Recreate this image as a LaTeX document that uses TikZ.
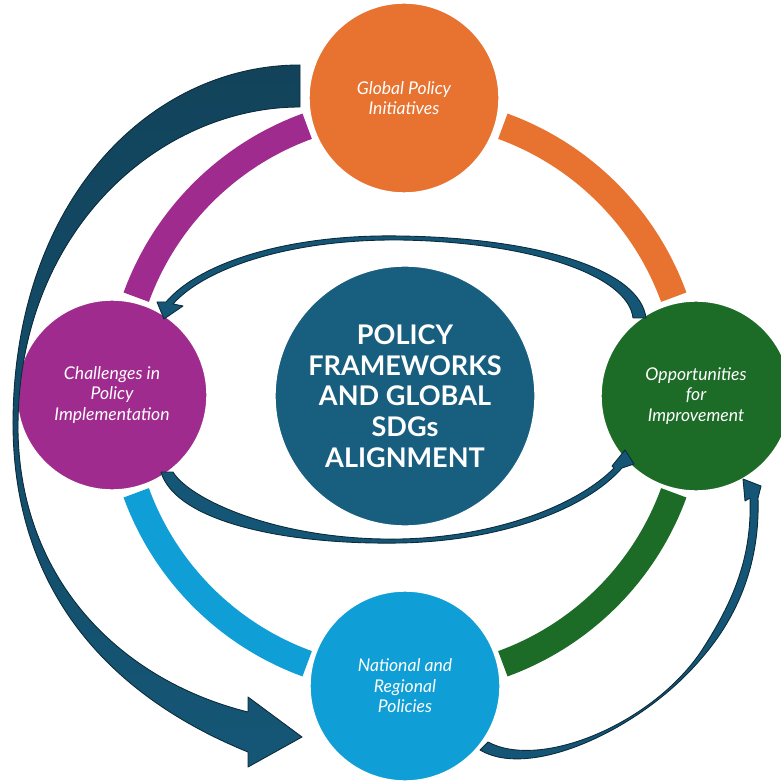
\documentclass[tikz,border=0pt]{standalone}
\usepackage{fontspec}
\setmainfont{Lato}
\definecolor{globalorange}{HTML}{E8722F}
\definecolor{challengepurple}{HTML}{A02B8E}
\definecolor{opportgreen}{HTML}{1C6B27}
\definecolor{nationalblue}{HTML}{0F9ED5}
\definecolor{corenavy}{HTML}{175E7F}
\definecolor{arrownavy}{HTML}{155676}
\definecolor{arrowtop}{HTML}{12435B}
\definecolor{arrowedge}{HTML}{0B2B3A}

\tikzset{
  hub/.style={circle,minimum size=38mm,inner sep=0pt,draw=white,line width=0.8pt,
    text=white,align=center,font=\itshape\fontsize{10}{11.7}\selectfont},
  band/.style={line width=5.4mm},
  bent/.style={fill=arrownavy,draw=arrowedge,line width=0.5pt,line join=round}
}

\begin{document}
\begin{tikzpicture}[x=0.2mm,y=-0.2mm]

    \useasboundingbox (0,0) rectangle (781,781);

    \coordinate (ctr) at (405,395);

    \draw[band,draw=challengepurple] (ctr) ++(-110:286) arc[start angle=-110,end angle=-160,radius=286];
    \draw[band,draw=globalorange] (ctr) ++(-20:286) arc[start angle=-20,end angle=-70,radius=286];
    \draw[band,draw=opportgreen] (ctr) ++(20:286) arc[start angle=20,end angle=70,radius=286];
    \draw[band,draw=nationalblue] (ctr) ++(110:286) arc[start angle=110,end angle=160,radius=286];



    \node[hub,fill=globalorange] (global) at (404,98) {Global Policy\\Initiatives};

    \node[hub,fill=challengepurple] (challenges) at (112,395) {Challenges in\\Policy\\Implementation};

    \node[hub,fill=opportgreen] (opportunities) at (696,396) {Opportunities\\for\\Improvement};

    \node[hub,fill=nationalblue] (national) at (405,686) {National and\\Regional\\Policies};

    \node[hub,minimum size=52mm,fill=corenavy,font=\bfseries\fontsize{15.4}{17.5}\selectfont]
      (core) at (405,396) {POLICY\\FRAMEWORKS\\AND GLOBAL\\SDGs\\ALIGNMENT};



    \path[draw=arrowedge,line width=0.5pt,line join=round,top color=arrowtop,bottom color=arrownavy]
      (300,65) .. controls (150,65) and (15,200) .. (13,420)
      .. controls (12,600) and (120,700) .. (248,752)
      -- (248,767) -- (302,737) -- (248,697) -- (248,712)
      .. controls (120,680) and (20,580) .. (18,430)
      .. controls (17,230) and (160,107) .. (300,107)
      -- cycle;

    \filldraw[bent]
      (646,318) .. controls (640,270) and (540,238) .. (400,236)
      .. controls (290,234) and (200,262) .. (166,302)
      -- (157,302) -- (164,319) -- (183,306) -- (173,304)
      .. controls (205,268) and (290,239) .. (400,240)
      .. controls (530,242) and (628,275) .. (633,318)
      -- cycle;

    \filldraw[bent]
      (161,472) .. controls (175,520) and (280,545) .. (400,543)
      .. controls (500,541) and (585,510) .. (622,468)
      -- (634,464) -- (625,450) -- (612,466) -- (614,468)
      .. controls (580,503) and (500,537) .. (400,539)
      .. controls (280,541) and (190,500) .. (173,472)
      -- cycle;

    \filldraw[bent]
      (480,750) .. controls (530,780) and (640,730) .. (700,660)
      .. controls (740,615) and (760,560) .. (758,498)
      -- (761,486) -- (743,479) -- (745,501) -- (750,498)
      .. controls (752,555) and (735,600) .. (700,653)
      .. controls (650,725) and (540,770) .. (488,742)
      -- cycle;

  \end{tikzpicture}
\end{document}
